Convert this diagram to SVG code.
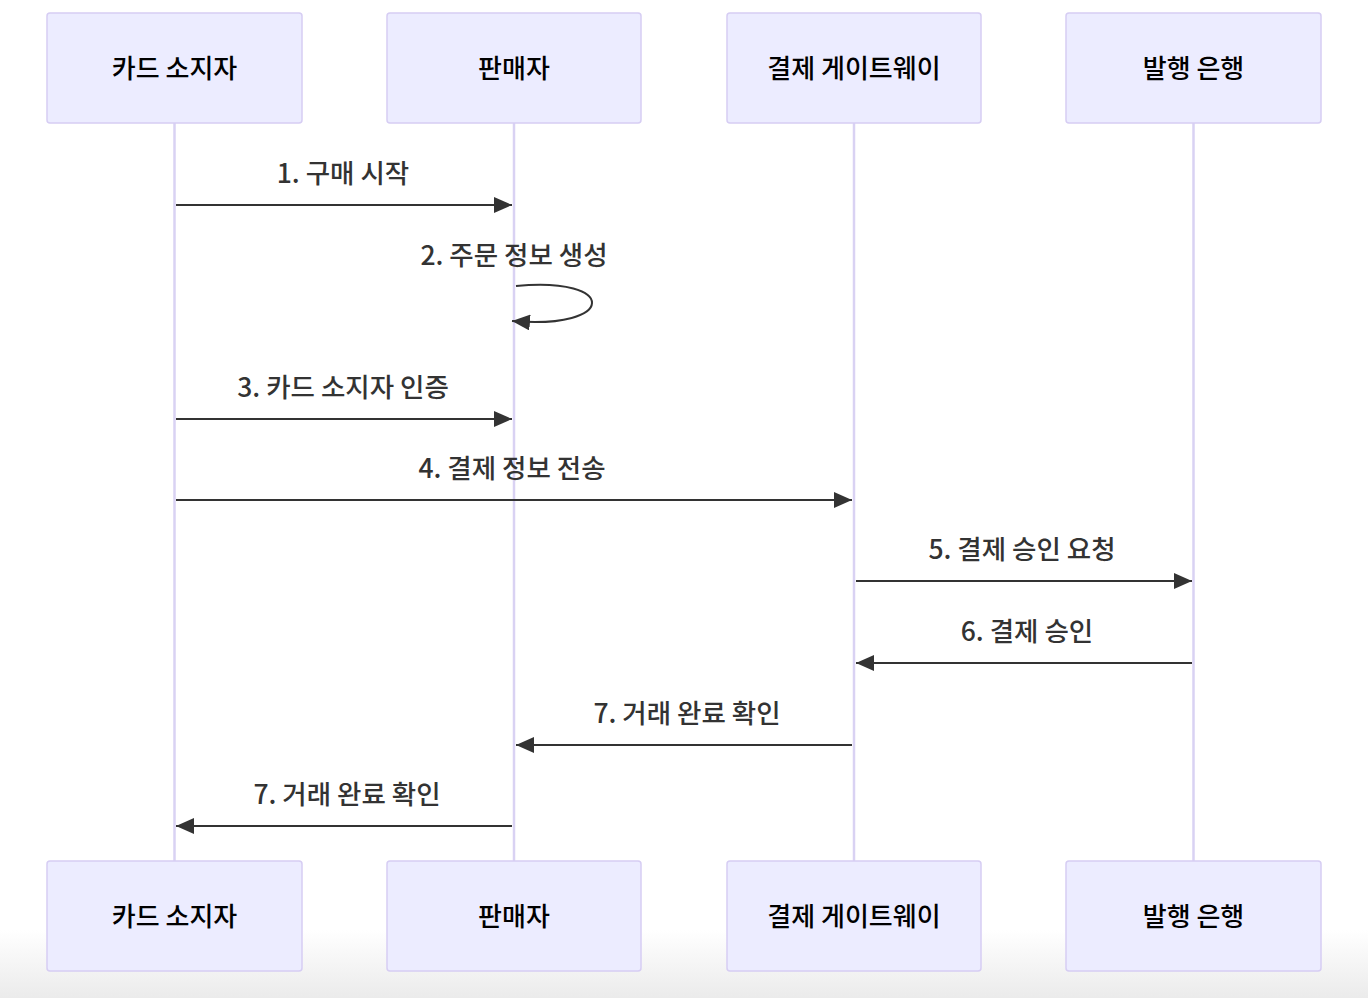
<svg xmlns="http://www.w3.org/2000/svg" width="1368" height="998" viewBox="0 0 1368 998">
<defs>
<linearGradient id="bg" x1="0" y1="0" x2="0" y2="1">
<stop offset="0" stop-color="#ffffff"/>
<stop offset="1" stop-color="#ebebeb"/>
</linearGradient>
<marker id="arr" viewBox="0 0 18 16" refX="18" refY="8" markerWidth="18" markerHeight="16" markerUnits="userSpaceOnUse" orient="auto">
<path d="M0,0 L18,8 L0,16 z" fill="#333"/>
</marker>
</defs>
<style>
.actor{fill:#ECECFF;stroke:#d6cdf3;stroke-width:1.5}
.atext{font-family:"Noto Sans CJK KR","Noto Sans",sans-serif;font-size:26px;font-weight:500;fill:#000;text-anchor:middle;dominant-baseline:central}
.life{stroke:#d9d2f3;stroke-width:2.5}
.msg{stroke:#333;stroke-width:2;fill:none;marker-end:url(#arr)}
.mtext{font-family:"Noto Sans CJK KR","Noto Sans",sans-serif;font-size:26.5px;font-weight:500;fill:#333;text-anchor:middle;dominant-baseline:central}
</style>
<rect x="0" y="0" width="1368" height="998" fill="#fff"/>
<rect x="0" y="930" width="1368" height="68" fill="url(#bg)"/>
<g id="lifelines">
<line class="life" x1="174.5" y1="123" x2="174.5" y2="861"/>
<line class="life" x1="514" y1="123" x2="514" y2="861"/>
<line class="life" x1="854" y1="123" x2="854" y2="861"/>
<line class="life" x1="1193.5" y1="123" x2="1193.5" y2="861"/>
</g>
<g id="actor-cardholder-top"><rect class="actor" x="47" y="13" width="255" height="110" rx="3"/><text class="atext" x="174.5" y="66">카드 소지자</text></g>
<g id="actor-merchant-top"><rect class="actor" x="387" y="13" width="254" height="110" rx="3"/><text class="atext" x="514" y="66">판매자</text></g>
<g id="actor-gateway-top"><rect class="actor" x="727" y="13" width="254" height="110" rx="3"/><text class="atext" x="854" y="66">결제 게이트웨이</text></g>
<g id="actor-bank-top"><rect class="actor" x="1066" y="13" width="255" height="110" rx="3"/><text class="atext" x="1193.5" y="66">발행 은행</text></g>
<g id="actor-cardholder-bottom"><rect class="actor" x="47" y="861" width="255" height="110" rx="3"/><text class="atext" x="174.5" y="914">카드 소지자</text></g>
<g id="actor-merchant-bottom"><rect class="actor" x="387" y="861" width="254" height="110" rx="3"/><text class="atext" x="514" y="914">판매자</text></g>
<g id="actor-gateway-bottom"><rect class="actor" x="727" y="861" width="254" height="110" rx="3"/><text class="atext" x="854" y="914">결제 게이트웨이</text></g>
<g id="actor-bank-bottom"><rect class="actor" x="1066" y="861" width="255" height="110" rx="3"/><text class="atext" x="1193.5" y="914">발행 은행</text></g>
<g id="connectors">
<line class="msg" x1="176" y1="205" x2="512" y2="205"/>
<path class="msg" d="M516,286 C618,276 618,330 512,321"/>
<line class="msg" x1="176" y1="419" x2="512" y2="419"/>
<line class="msg" x1="176" y1="500" x2="852" y2="500"/>
<line class="msg" x1="856" y1="581" x2="1192" y2="581"/>
<line class="msg" x1="1192" y1="663" x2="856" y2="663"/>
<line class="msg" x1="852" y1="745" x2="516" y2="745"/>
<line class="msg" x1="512" y1="826" x2="176" y2="826"/>
</g>
<g id="labels">
<text class="mtext" x="343" y="171">1. 구매 시작</text>
<text class="mtext" x="514" y="253">2. 주문 정보 생성</text>
<text class="mtext" x="343" y="385">3. 카드 소지자 인증</text>
<text class="mtext" x="512" y="466">4. 결제 정보 전송</text>
<text class="mtext" x="1022" y="547">5. 결제 승인 요청</text>
<text class="mtext" x="1027" y="629">6. 결제 승인</text>
<text class="mtext" x="687" y="711">7. 거래 완료 확인</text>
<text class="mtext" x="347" y="792">7. 거래 완료 확인</text>
</g>
</svg>
